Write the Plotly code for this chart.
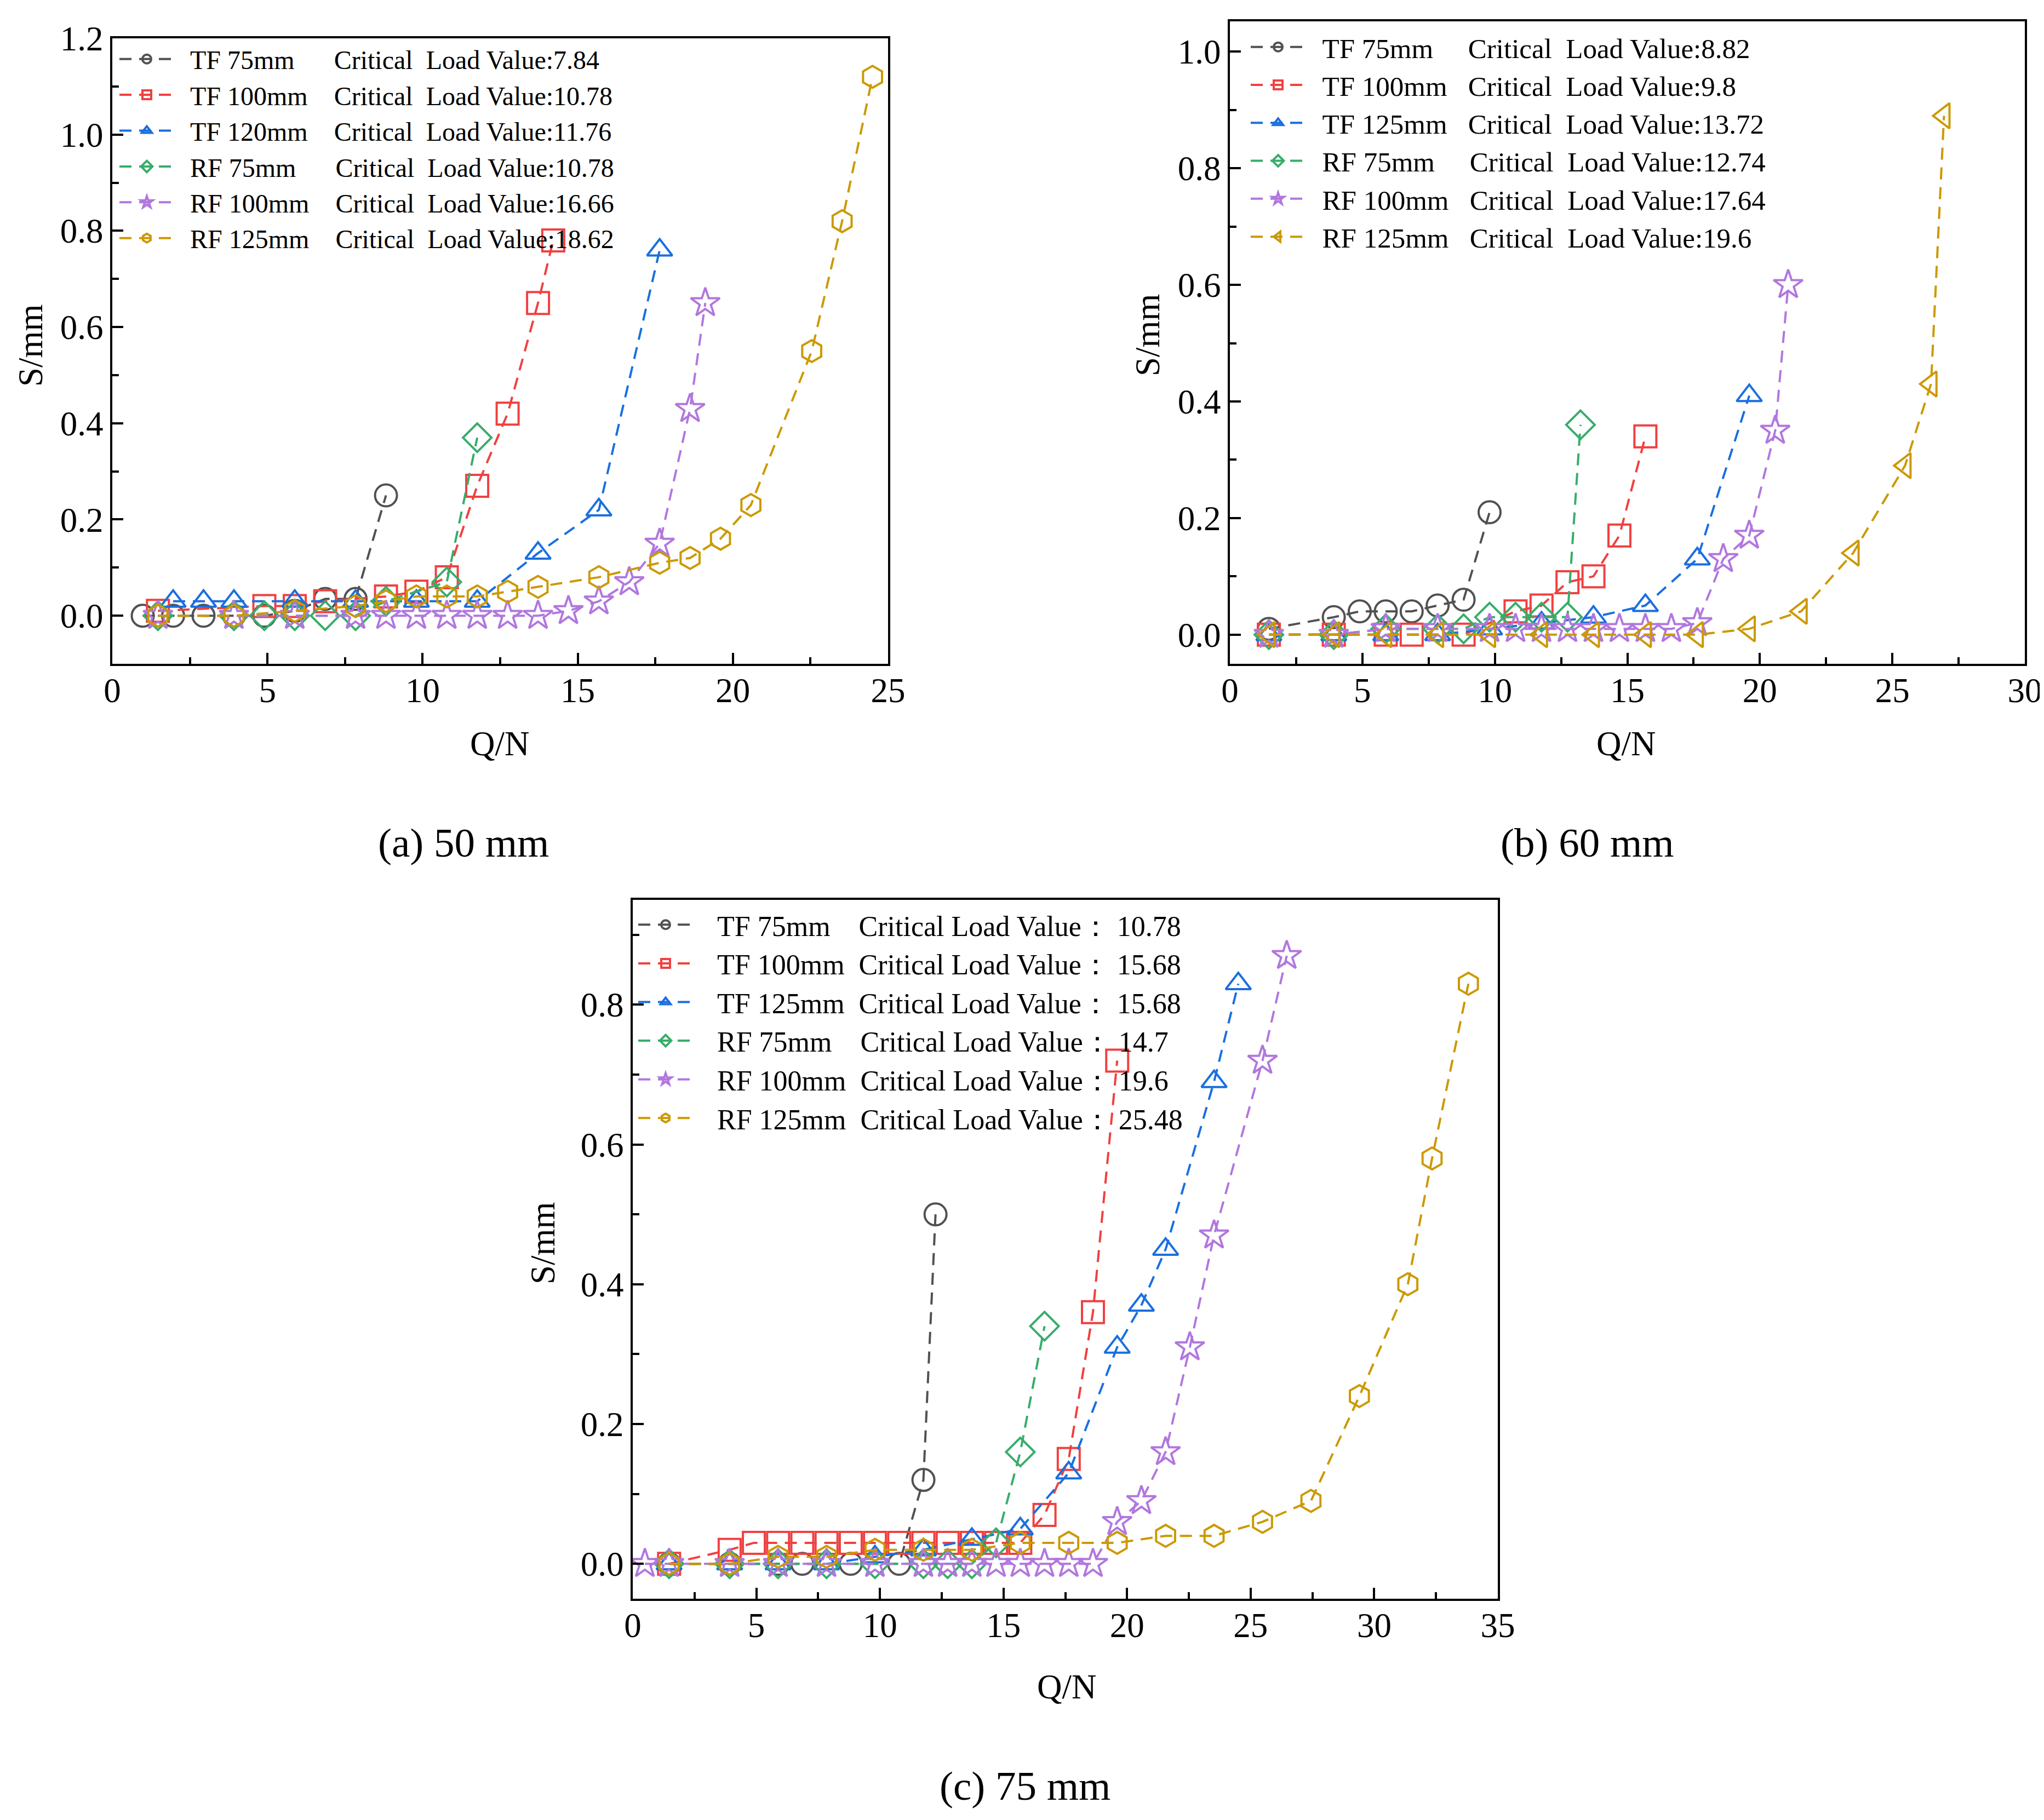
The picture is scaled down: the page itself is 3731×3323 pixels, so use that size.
import plotly.graph_objects as go

W, H = 3731, 3323
FONT = "Liberation Serif"
COLORS = ["#515151", "#F14040", "#1A6FDF", "#37AD6B", "#B177DE", "#CC9900"]

# ---- (a) 50 mm ----
A_NAMES = ["TF 75mm", "TF 100mm", "TF 120mm", "RF 75mm", "RF 100mm", "RF 125mm"]
A_CRIT = ["7.84", "10.78", "11.76", "10.78", "16.66", "18.62"]
A_TF75_Q = [0.98, 1.96, 2.94, 3.92, 4.9, 5.88, 6.86, 7.84, 8.82]
A_TF75_S = [0, 0, 0, 0, 0, 0.01, 0.035, 0.035, 0.25]
A_TF100_Q = [1.47, 4.9, 5.88, 6.86, 8.82, 9.8, 10.78, 11.76, 12.74, 13.72, 14.21]
A_TF100_S = [0.01, 0.02, 0.02, 0.03, 0.04, 0.05, 0.08, 0.27, 0.42, 0.65, 0.78]
A_TF120_Q = [1.96, 2.94, 3.92, 5.88, 7.84, 9.8, 11.76, 13.72, 15.68, 17.64]
A_TF120_S = [0.03, 0.03, 0.03, 0.03, 0.03, 0.03, 0.03, 0.13, 0.22, 0.76]
A_RF75_Q = [1.47, 3.92, 4.9, 5.88, 6.86, 7.84, 8.82, 10.78, 11.76]
A_RF75_S = [0, 0, 0, 0, 0, 0, 0.03, 0.07, 0.37]
A_RF100_Q = [1.47, 3.92, 5.88, 7.84, 8.82, 9.8, 10.78, 11.76, 12.74, 13.72,
             14.7, 15.68, 16.66, 17.64, 18.62, 19.11]
A_RF100_S = [0, 0, 0, 0, 0, 0, 0, 0, 0, 0, 0.01, 0.03, 0.07, 0.15, 0.43, 0.65]
A_RF125_Q = [1.47, 3.92, 5.88, 7.84, 8.82, 9.8, 10.78, 11.76, 12.74, 13.72,
             15.68, 17.64, 18.62, 19.6, 20.58, 22.54, 23.52, 24.5]
A_RF125_S = [0, 0, 0.01, 0.02, 0.03, 0.04, 0.04, 0.04, 0.05, 0.06,
             0.08, 0.11, 0.12, 0.16, 0.23, 0.55, 0.82, 1.12]

# ---- (b) 60 mm ----
B_NAMES = ["TF 75mm", "TF 100mm", "TF 125mm", "RF 75mm", "RF 100mm", "RF 125mm"]
B_CRIT = ["8.82", "9.8", "13.72", "12.74", "17.64", "19.6"]
B_TF75_Q = [1.47, 3.92, 4.9, 5.88, 6.86, 7.84, 8.82, 9.8]
B_TF75_S = [0.01, 0.03, 0.04, 0.04, 0.04, 0.05, 0.06, 0.21]
B_TF100_Q = [1.47, 3.92, 5.88, 6.86, 8.82, 10.78, 11.76, 12.74, 13.72, 14.7, 15.68]
B_TF100_S = [0, 0, 0, 0, 0, 0.04, 0.05, 0.09, 0.10, 0.17, 0.34]
B_TF125_Q = [1.47, 3.92, 5.88, 7.84, 9.8, 11.76, 13.72, 15.68, 17.64, 19.6]
B_TF125_S = [0, 0, 0, 0, 0.01, 0.02, 0.03, 0.05, 0.13, 0.41]
B_RF75_Q = [1.47, 3.92, 5.88, 7.84, 8.82, 9.8, 10.78, 11.76, 12.74, 13.23]
B_RF75_S = [0, 0, 0.01, 0.01, 0.01, 0.03, 0.03, 0.03, 0.03, 0.36]
B_RF100_Q = [1.47, 3.92, 5.88, 7.84, 9.8, 10.78, 11.76, 12.74, 13.72, 14.7,
             15.68, 16.66, 17.64, 18.62, 19.6, 20.58, 21.07]
B_RF100_S = [0, 0, 0.01, 0.01, 0.01, 0.01, 0.01, 0.01, 0.01, 0.01,
             0.01, 0.01, 0.02, 0.13, 0.17, 0.35, 0.60]
B_RF125_Q = [1.47, 3.92, 5.88, 7.84, 9.8, 11.76, 13.72, 15.68, 17.64, 19.6,
             21.56, 23.52, 25.48, 26.46, 26.95]
B_RF125_S = [0, 0, 0, 0, 0, 0, 0, 0, 0, 0.01, 0.04, 0.14, 0.29, 0.43, 0.89]

# ---- (c) 75 mm ----
C_NAMES = ["TF 75mm", "TF 100mm", "TF 125mm", "RF 75mm", "RF 100mm", "RF 125mm"]
C_CRIT = ["10.78", "15.68", "15.68", "14.7", "19.6", "25.48"]
C_TF75_Q = [1.47, 3.92, 5.88, 6.86, 8.82, 10.78, 11.76, 12.25]
C_TF75_S = [0, 0, 0, 0, 0, 0, 0.12, 0.50]
C_TF100_Q = [1.47, 3.92, 4.9, 5.88, 6.86, 7.84, 8.82, 9.8, 10.78, 11.76, 12.74,
             13.72, 14.7, 15.68, 16.66, 17.64, 18.62, 19.6]
C_TF100_S = [0, 0.02, 0.03, 0.03, 0.03, 0.03, 0.03, 0.03, 0.03, 0.03, 0.03,
             0.03, 0.03, 0.03, 0.07, 0.15, 0.36, 0.72]
C_TF125_Q = [1.47, 3.92, 5.88, 7.84, 9.8, 11.76, 13.72, 15.68, 17.64, 19.6,
             20.58, 21.56, 23.52, 24.5]
C_TF125_S = [0, 0, 0, 0, 0.01, 0.02, 0.035, 0.05, 0.13, 0.31, 0.37, 0.45, 0.69, 0.83]
C_RF75_Q = [1.47, 3.92, 5.88, 7.84, 9.8, 11.76, 12.74, 13.72, 14.7, 15.68, 16.66]
C_RF75_S = [0, 0, 0, 0, 0, 0, 0, 0, 0.03, 0.16, 0.34]
C_RF100_Q = [0.49, 1.47, 3.92, 5.88, 7.84, 9.8, 11.76, 12.74, 13.72, 14.7, 15.68,
             16.66, 17.64, 18.62, 19.6, 20.58, 21.56, 22.54, 23.52, 25.48, 26.46]
C_RF100_S = [0, 0, 0, 0, 0, 0, 0, 0, 0, 0, 0, 0, 0, 0,
             0.06, 0.09, 0.16, 0.31, 0.47, 0.72, 0.87]
C_RF125_Q = [1.47, 3.92, 5.88, 7.84, 9.8, 11.76, 13.72, 15.68, 17.64, 19.6,
             21.56, 23.52, 25.48, 27.44, 29.4, 31.36, 32.34, 33.81]
C_RF125_S = [0, 0, 0.01, 0.01, 0.02, 0.02, 0.02, 0.03, 0.03, 0.03,
             0.04, 0.04, 0.06, 0.09, 0.24, 0.40, 0.58, 0.83]

NB = "\u00a0"


def px(x):
    return x / W


def py(y):
    return 1 - y / H


SYMBOLS = ["circle-open", "square-open", "triangle-up-open",
           "diamond-open", "star-open", "hexagon-open"]

# legend text: small lead-in gap, size label padded so "Critical" lines up
panels = [
    dict(key="", legend="legend", names=A_NAMES, crit=A_CRIT,
         series=[(A_TF75_Q, A_TF75_S), (A_TF100_Q, A_TF100_S), (A_TF120_Q, A_TF120_S),
                 (A_RF75_Q, A_RF75_S), (A_RF100_Q, A_RF100_S), (A_RF125_Q, A_RF125_S)],
         symbols=SYMBOLS,
         label=lambda n: NB * 2 + n + NB * (4 + 2 * (8 - len(n))) + "Critical" + NB * 2 + "Load Value:"),
    dict(key="2", legend="legend2", names=B_NAMES, crit=B_CRIT,
         series=[(B_TF75_Q, B_TF75_S), (B_TF100_Q, B_TF100_S), (B_TF125_Q, B_TF125_S),
                 (B_RF75_Q, B_RF75_S), (B_RF100_Q, B_RF100_S), (B_RF125_Q, B_RF125_S)],
         symbols=SYMBOLS[:5] + ["triangle-left-open"],
         label=lambda n: NB * 2 + n + NB * (3 + 2 * (8 - len(n))) + "Critical" + NB * 2 + "Load Value:"),
    dict(key="3", legend="legend3", names=C_NAMES, crit=C_CRIT,
         series=[(C_TF75_Q, C_TF75_S), (C_TF100_Q, C_TF100_S), (C_TF125_Q, C_TF125_S),
                 (C_RF75_Q, C_RF75_S), (C_RF100_Q, C_RF100_S), (C_RF125_Q, C_RF125_S)],
         symbols=SYMBOLS,
         label=lambda n: NB * 3 + n + NB * (2 + 2 * (8 - len(n))) + "Critical Load Value\uff1a" + NB),
]

fig = go.Figure()
for p in panels:
    for i, (q, s) in enumerate(p["series"]):
        fig.add_trace(go.Scatter(
            x=q, y=s, mode="lines+markers",
            name=p["label"](p["names"][i]) + p["crit"][i],
            xaxis="x" + p["key"], yaxis="y" + p["key"], legend=p["legend"],
            line=dict(color=COLORS[i], width=4, dash="22px,14px"),
            marker=dict(symbol=p["symbols"][i], size=40, color=COLORS[i],
                        line=dict(width=4, color=COLORS[i])),
        ))


def axis_style(domain, rng, dtick, minor, fmt=None, anchor=None):
    d = dict(domain=domain, range=rng, dtick=dtick, tick0=0, ticks="inside",
             ticklen=20, tickwidth=4, tickcolor="black", showline=True,
             linewidth=4, linecolor="black", mirror=True, showgrid=False,
             zeroline=False, anchor=anchor, automargin=False,
             tickfont=dict(family=FONT, size=63, color="black"),
             minor=dict(dtick=minor, ticks="inside", ticklen=12, tickwidth=4,
                        tickcolor="black", showgrid=False))
    if fmt:
        d["tickformat"] = fmt
    return d


title_font = dict(family=FONT, size=63, color="black")

# plot boxes in pixel coordinates of the page: left, right, top, bottom
A_BOX = (197, 1613, 62, 1204)
B_BOX = (2237, 3688, 31, 1204)
C_BOX = (1147, 2726, 1635, 2911)

layout = dict(width=W, height=H, margin=dict(l=0, r=0, t=0, b=0, autoexpand=False),
              paper_bgcolor="white", plot_bgcolor="white", showlegend=True)

for key, box, xr, yr in [("", A_BOX, [0, 25], [-0.1, 1.2]),
                         ("2", B_BOX, [0, 30], [-0.05, 1.052]),
                         ("3", C_BOX, [0, 35], [-0.05, 0.95])]:
    xa = axis_style([px(box[0]), px(box[1])], xr, 5, 2.5, anchor="y" + key)
    xa["ticklabelstandoff"] = -10
    layout["xaxis" + key] = xa
    layout["yaxis" + key] = axis_style([py(box[3]), py(box[2])], yr, 0.2, 0.1, fmt=".1f",
                                       anchor="x" + key)

leg_common = dict(bgcolor="rgba(0,0,0,0)", borderwidth=0, xanchor="left",
                  yanchor="top", itemwidth=100, tracegroupgap=0)
layout["legend"] = dict(leg_common, x=px(205), y=py(62),
                        font=dict(family=FONT, size=48, color="black"))
layout["legend2"] = dict(leg_common, x=px(2270), y=py(38),
                         font=dict(family=FONT, size=51, color="black"))
layout["legend3"] = dict(leg_common, x=px(1152), y=py(1640),
                         font=dict(family=FONT, size=52, color="black"))

fig.update_layout(**layout)

# axis titles: (text, centre x, centre y, angle)
axis_titles = [("Q/N", 904, 1350, 0), ("S/mm", 48, 623, -90),
               ("Q/N", 2960, 1350, 0), ("S/mm", 2087, 604, -90),
               ("Q/N", 1939, 3072, 0), ("S/mm", 983, 2261, -90)]
for text, cx, cy, ang in axis_titles:
    fig.add_annotation(text=text, x=px(cx), y=py(cy), xref="paper", yref="paper",
                       showarrow=False, xanchor="center", yanchor="middle", textangle=ang,
                       font=title_font)

for text, cx, cy in [("(a) 50 mm", 838, 1530), ("(b) 60 mm", 2889, 1530), ("(c) 75 mm", 1863, 3252)]:
    fig.add_annotation(text=text, x=px(cx), y=py(cy), xref="paper", yref="paper",
                       showarrow=False, xanchor="center", yanchor="middle",
                       font=dict(family=FONT, size=75, color="black"))

fig.write_html("out.html")
